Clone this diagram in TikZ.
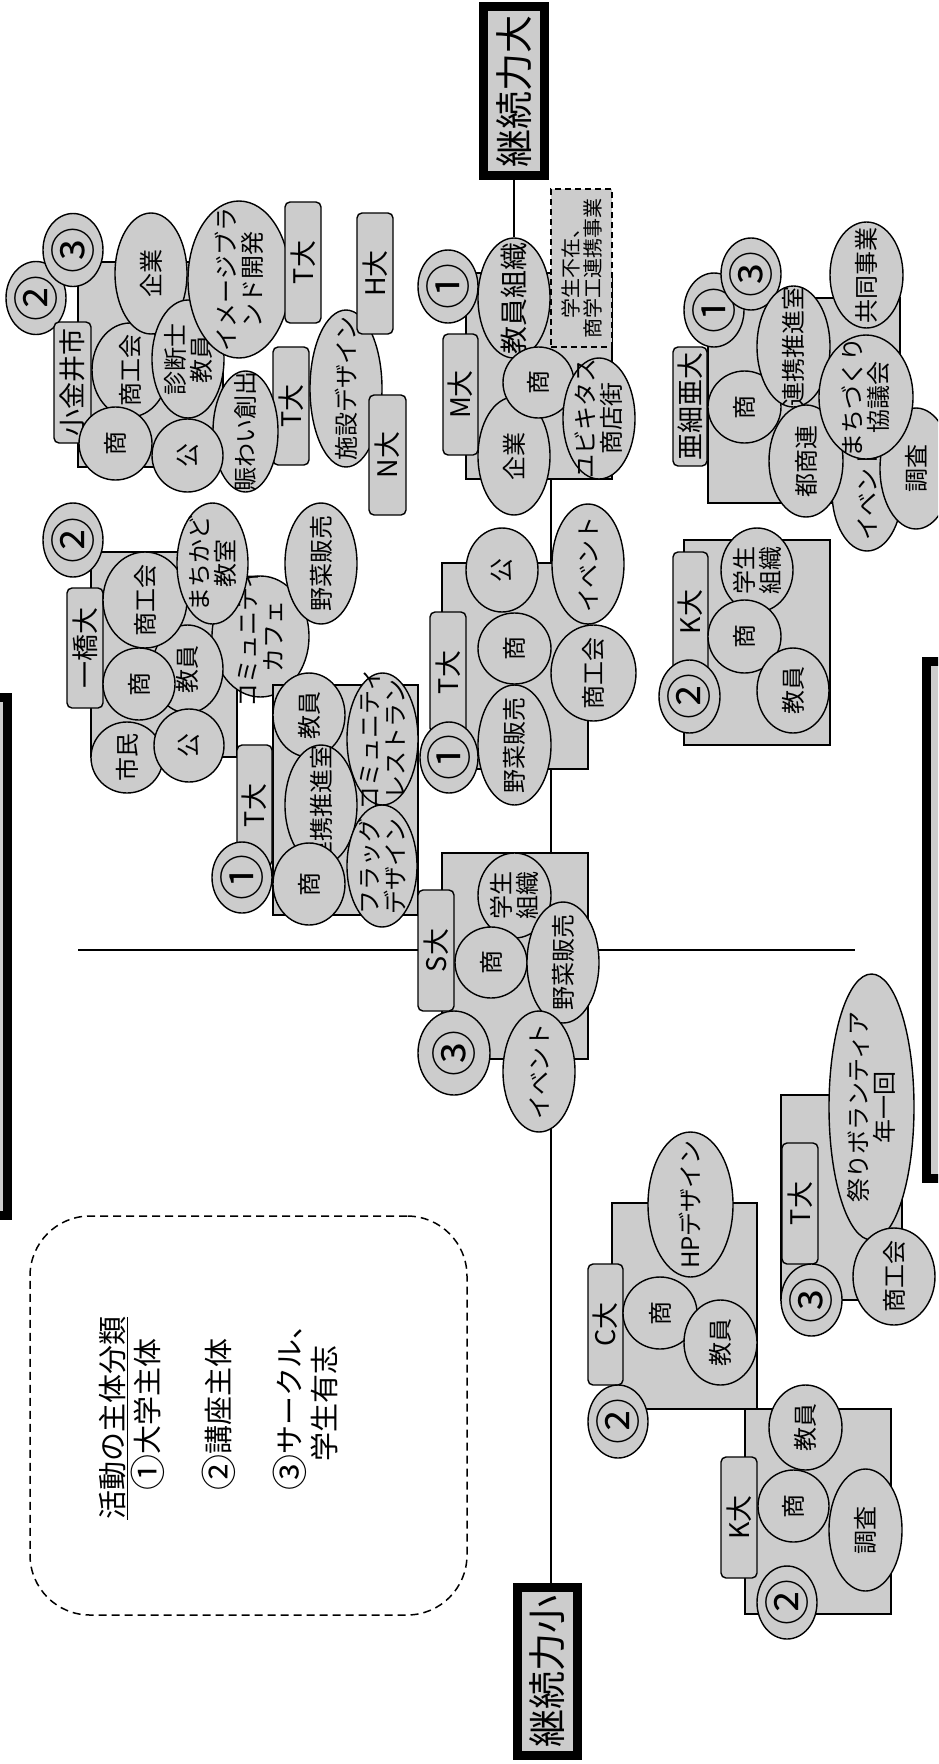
\documentclass[tikz,border=0pt]{standalone}
\usepackage{fontspec}
\setmainfont{Noto Sans CJK JP}
\usepackage{tikz}
\usetikzlibrary{shapes.geometric}
\definecolor{boxgrey}{HTML}{CCCCCC}
\newcommand{\bignum}[1]{\raisebox{-0.1em}{\fontsize{36}{35}\selectfont #1}}

\tikzset{
  base/.style={draw=black, line width=1.4pt, fill=boxgrey, inner sep=0pt},
  axis/.style={draw=black, line width=1.4pt},
  txt/.style={rotate=90, align=center, inner sep=0pt, font=\fontsize{24}{26}\selectfont},
  smalltxt/.style={rotate=90, align=center, inner sep=0pt, font=\fontsize{20}{22}\selectfont},
  tagtxt/.style={rotate=90, inner sep=0pt, font=\fontsize{27}{28}\selectfont},
  numtxt/.style={rotate=90, inner sep=0pt, font=\fontsize{46}{46}\selectfont},
  bigtxt/.style={rotate=90, inner sep=0pt, font=\fontsize{38}{38}\selectfont},
  grp/.style 2 args={base, rectangle, minimum width=#1, minimum height=#2},
  blob/.style n args={3}{base, ellipse, minimum width=#1, minimum height=#2, label={[txt]center:#3}},
  tag/.style n args={3}{base, rectangle, rounded corners=5pt, minimum width=#1, minimum height=#2, label={[tagtxt]center:#3}},
  numc/.style n args={3}{base, ellipse, minimum width=#1, minimum height=#2, label={[numtxt]center:#3}},
  dbox/.style n args={3}{base, rectangle, dash pattern=on 6pt off 4pt, minimum width=#1, minimum height=#2, label={[smalltxt]center:#3}},
  axbox/.style 2 args={draw=black, line width=9pt, fill=boxgrey, inner sep=0pt, minimum width=#1, minimum height=#2},
  legend/.style={draw=black, line width=1.5pt, dash pattern=on 8pt off 5pt, rounded corners=60pt, inner sep=0pt},
  legtxt/.style={rotate=90, align=left, inner sep=0pt, font=\fontsize{29}{35}\selectfont},
}

\begin{document}
\begin{tikzpicture}[x=1pt, y=-1pt]
  \useasboundingbox (0,0) rectangle (938,1764);
  \clip (0,0) rectangle (938,1764);
  \fill[white] (0,0) rectangle (938,1764);

  % axes
  \coordinate (axl) at (78,950);
  \coordinate (axr) at (855,950);
  \coordinate (axtop) at (551,479);
  \node[axbox={61}{169}, label={[bigtxt]center:継続力大}] (big) at (514,91) {};
  \node[axbox={60}{168}, label={[bigtxt]center:継続力小}] (small) at (547.5,1671.5) {};
  \node[axbox={200}{518}] (edgel) at (-92.5,956.5) {};
  \node[axbox={203}{517}] (edger) at (1028,920) {};
  \draw[axis] (axl) -- (axr);
  \draw[axis] (axtop) -- (axtop |- small.north);

  % legend
  \node[legend, minimum width=437, minimum height=399] (leg) at (248.5,1415.5) {};
  \node[legtxt, anchor=north west] (legtext) at (99,1520) {\underline{活動の主体分類}\\
    \hspace*{1em}\bignum{①}大学主体\\[36pt]
    \hspace*{1em}\bignum{②}講座主体\\[36pt]
    \hspace*{1em}\bignum{③}サークル、\\
    \hspace*{2em}学生有志};

  % Koganei group
  \node[grp={145}{205}] (kgrp) at (150.5,364.5) {};
  \node[numc={60}{73}{②}] (kn2) at (36,298) {};
  \node[numc={60}{73}{③}] (kn3) at (73,250) {};
  \node[tag={37}{121}{小金井市}] (kbox) at (72.5,382.5) {};
  \node[blob={76}{94}{商工会}] (ksk) at (130,370) {};
  \node[blob={72}{121}{企業}] (kkg) at (151,273.5) {};
  \node[blob={72}{118}{診断士\\教員}] (ksd) at (188,359) {};
  \node[blob={102}{157}{イメージブラ\\ンド開発}] (kim) at (239,279.5) {};
  \node[tag={36}{121}{T大}] (kt1) at (303,262.5) {};
  \node[blob={72}{157}{施設デザイン}] (kss) at (346,388.5) {};
  \node[tag={36}{121}{H大}] (kh) at (375,273.5) {};
  \node[tag={36}{118}{T大}] (kt2) at (291,406) {};
  \node[tag={37}{120}{N大}] (kn) at (387.5,455) {};
  \node[blob={65}{121}{賑わい創出}] (knw) at (245.5,431.5) {};
  \node[blob={73}{73}{商}] (ksh) at (115.5,443.5) {};
  \node[blob={71}{73}{公}] (kko) at (187.5,455.5) {};

  % Hitotsubashi group
  \node[grp={146}{205}] (hgrp) at (164,654.5) {};
  \node[numc={60}{74}{②}] (hn2) at (73,540) {};
  \node[tag={36}{120}{一橋大}] (hbox) at (85,648) {};
  \node[blob={97}{121}{コミュニティ\\カフェ}] (hcf) at (260.5,636.5) {};
  \node[blob={71}{88}{教員}] (hky) at (187.5,669) {};
  \node[blob={84}{96}{商工会}] (hsk) at (145,600) {};
  \node[blob={71}{121}{まちかど\\教室}] (hmk) at (212.5,563.5) {};
  \node[blob={72}{121}{野菜販売}] (hys) at (321,563.5) {};
  \node[blob={72}{72}{商}] (hsh) at (139,684) {};
  \node[blob={72}{71}{市民}] (hsm) at (127,757.5) {};
  \node[blob={70}{73}{公}] (hko) at (189,745.5) {};

  % T-dai left group
  \node[grp={145}{230}] (tlgrp) at (345.5,800) {};
  \node[tag={35}{121}{T大}] (tlbox) at (254.5,805.5) {};
  \node[numc={60}{71}{①}] (tln1) at (242,877.5) {};
  \node[blob={72}{84}{教員}] (tlky) at (309,715) {};
  \node[blob={71}{132}{コミュニティ\\レストラン}] (tlcr) at (382.5,739) {};
  \node[blob={72}{120}{連携推進室}] (tlrk) at (321,805) {};
  \node[blob={72}{82}{商}] (tlsh) at (309,884) {};
  \node[blob={70}{122}{フラッグ\\デザイン}] (tlfd) at (382,866) {};

  % M-dai group
  \node[grp={146}{206}] (mgrp) at (539,376) {};
  \node[dbox={61}{158}{学生不在、\\商学工連携事業}] (mdash) at (581.5,268) {};
  \node[numc={60}{73}{①}] (mn1) at (448,286.5) {};
  \node[tag={35}{121}{M大}] (mbox) at (460.5,394.5) {};
  \node[blob={72}{120}{\fontsize{28}{30}\selectfont 教員組織}] (mks) at (514,298) {};
  \node[blob={72}{118}{企業}] (mkg) at (514,456) {};
  \node[blob={71}{71}{商}] (msh) at (538.5,382.5) {};
  \node[blob={72}{121}{ユビキタス\\商店街}] (myb) at (599,418.5) {};
  \draw[axis] (big.south) -- (mks.north);

  % Asia group
  \node[grp={192}{205}] (agrp) at (804,400.5) {};
  \node[numc={60}{74}{①}] (an1) at (714,310) {};
  \node[numc={60}{72}{③}] (an3) at (751,274) {};
  \node[tag={34}{119}{亜細亜大}] (abox) at (690,406.5) {};
  \node[blob={73}{72}{商}] (ash) at (744.5,407) {};
  \node[blob={73}{121}{連携推進室}] (ark) at (793.5,346.5) {};
  \node[blob={73}{106}{共同事業}] (akj) at (866.5,275) {};
  \node[blob={70}{118}{イベント}] (aev) at (867,492) {};
  \node[blob={72}{121}{調査}] (acs) at (916,468.5) {};
  \node[blob={74}{112}{都商連}] (atr) at (806,461) {};
  \node[blob={94}{124}{まちづくり\\協議会}] (amz) at (866,397) {};

  % T-dai centre group
  \node[grp={146}{206}] (tcgrp) at (515,666) {};
  \node[tag={36}{121}{T大}] (tcbox) at (448,672.5) {};
  \node[numc={58}{71}{①}] (tcn1) at (449,757.5) {};
  \node[blob={72}{84}{公}] (tcko) at (502,570) {};
  \node[blob={73}{71}{商}] (tcsh) at (514.5,648.5) {};
  \node[blob={73}{120}{野菜販売}] (tcys) at (514.5,745) {};
  \node[blob={72}{120}{イベント}] (tcev) at (588,564) {};
  \node[blob={85}{96}{商工会}] (tcsk) at (593.5,673) {};

  % K-dai middle group
  \node[grp={146}{205}] (kmgrp) at (757,642.5) {};
  \node[tag={35}{120}{K大}] (kmbox) at (690.5,612) {};
  \node[numc={61}{73}{②}] (kmn2) at (689.5,696.5) {};
  \node[blob={72}{84}{学生\\組織}] (kmgs) at (757,570) {};
  \node[blob={73}{73}{商}] (kmsh) at (744.5,636.5) {};
  \node[blob={72}{85}{教員}] (kmky) at (793,690.5) {};

  % S-dai group
  \node[grp={146}{206}] (sgrp) at (515,956) {};
  \node[tag={36}{121}{S大}] (sbox) at (436,950.5) {};
  \node[numc={72}{84}{③}] (sn3) at (454,1053) {};
  \node[blob={73}{85}{学生\\組織}] (sgs) at (514.5,895.5) {};
  \node[blob={72}{71}{商}] (ssh) at (491,962.5) {};
  \node[blob={72}{121}{野菜販売}] (sys) at (563,962.5) {};
  \node[blob={72}{121}{イベント}] (sev) at (539,1071.5) {};

  % C-dai group
  \node[grp={145}{206}] (cgrp) at (684.5,1306) {};
  \node[blob={85}{145}{HPデザイン}] (chp) at (690.5,1204.5) {};
  \node[tag={35}{121}{C大}] (cbox) at (605.5,1324.5) {};
  \node[blob={74}{72}{商}] (csh) at (660,1313) {};
  \node[blob={73}{85}{教員}] (cky) at (720.5,1342.5) {};
  \node[numc={60}{73}{②}] (cn2) at (618,1421.5) {};

  % K-dai bottom group
  \node[grp={146}{205}] (kbgrp) at (818,1511.5) {};
  \node[blob={73}{85}{教員}] (kbky) at (805.5,1427.5) {};
  \node[tag={36}{121}{K大}] (kbbox) at (739,1517.5) {};
  \node[blob={71}{72}{商}] (kbsh) at (793.5,1506) {};
  \node[blob={73}{122}{調査}] (kbcs) at (865.5,1530) {};
  \node[numc={60}{73}{②}] (kbn2) at (787,1602.5) {};

  % T-dai festival group
  \node[grp={121}{205}] (trgrp) at (841.5,1197.5) {};
  \node[blob={85}{266}{祭りボランティア\\年一回}] (trmv) at (871.5,1107) {};
  \node[tag={36}{121}{T大}] (trbox) at (800,1203.5) {};
  \node[numc={61}{72}{③}] (trn3) at (811.5,1300) {};
  \node[blob={82}{97}{商工会}] (trsk) at (894,1276.5) {};
\end{tikzpicture}
\end{document}
